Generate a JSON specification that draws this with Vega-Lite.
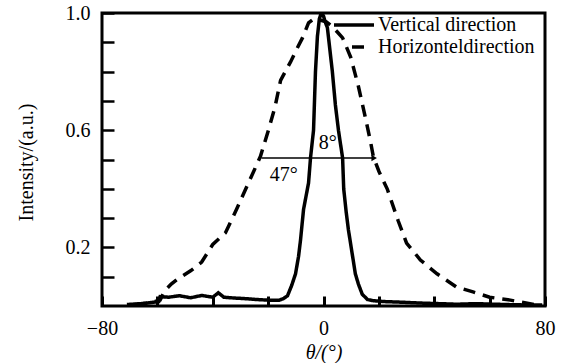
{
  "$schema": "https://vega.github.io/schema/vega-lite/v6.json",
  "autosize": {"type": "none"},
  "padding": {"left": 102, "top": 13, "right": 24, "bottom": 57},
  "width": 443,
  "height": 293,
  "background": "white",
  "config": {
    "view": {"stroke": "black", "strokeWidth": 3},
    "font": "Liberation Serif",
    "axis": {
      "labelFont": "Liberation Serif",
      "labelFontSize": 20,
      "labelColor": "black",
      "titleFont": "Liberation Serif",
      "titleFontSize": 20,
      "titleFontWeight": "normal",
      "titleColor": "black",
      "tickColor": "black",
      "tickWidth": 2.5,
      "domain": false,
      "grid": false,
      "zindex": 1
    },
    "legend": {
      "labelFont": "Liberation Serif",
      "labelFontSize": 20,
      "labelColor": "black"
    }
  },
  "datasets": {
    "curves": [
      {"x": -71, "y": 0.005, "series": "Vertical direction"},
      {"x": -66, "y": 0.008, "series": "Vertical direction"},
      {"x": -62, "y": 0.012, "series": "Vertical direction"},
      {"x": -59.5, "y": 0.015, "series": "Vertical direction"},
      {"x": -59, "y": 0.032, "series": "Vertical direction"},
      {"x": -56, "y": 0.03, "series": "Vertical direction"},
      {"x": -52, "y": 0.035, "series": "Vertical direction"},
      {"x": -48, "y": 0.028, "series": "Vertical direction"},
      {"x": -44, "y": 0.036, "series": "Vertical direction"},
      {"x": -40, "y": 0.03, "series": "Vertical direction"},
      {"x": -38, "y": 0.045, "series": "Vertical direction"},
      {"x": -36, "y": 0.03, "series": "Vertical direction"},
      {"x": -32, "y": 0.027, "series": "Vertical direction"},
      {"x": -28, "y": 0.025, "series": "Vertical direction"},
      {"x": -24, "y": 0.022, "series": "Vertical direction"},
      {"x": -20, "y": 0.02, "series": "Vertical direction"},
      {"x": -16, "y": 0.02, "series": "Vertical direction"},
      {"x": -14.5, "y": 0.025, "series": "Vertical direction"},
      {"x": -13, "y": 0.035, "series": "Vertical direction"},
      {"x": -11.5, "y": 0.07, "series": "Vertical direction"},
      {"x": -10.1, "y": 0.11, "series": "Vertical direction"},
      {"x": -9, "y": 0.17, "series": "Vertical direction"},
      {"x": -8.3, "y": 0.225, "series": "Vertical direction"},
      {"x": -7.2, "y": 0.33, "series": "Vertical direction"},
      {"x": -6.2, "y": 0.38, "series": "Vertical direction"},
      {"x": -5.4, "y": 0.42, "series": "Vertical direction"},
      {"x": -4.7, "y": 0.505, "series": "Vertical direction"},
      {"x": -3.6, "y": 0.6, "series": "Vertical direction"},
      {"x": -2.9, "y": 0.8, "series": "Vertical direction"},
      {"x": -2.2, "y": 0.92, "series": "Vertical direction"},
      {"x": -1.5, "y": 0.98, "series": "Vertical direction"},
      {"x": -0.8, "y": 1.0, "series": "Vertical direction"},
      {"x": 0, "y": 0.99, "series": "Vertical direction"},
      {"x": 0.6, "y": 0.97, "series": "Vertical direction"},
      {"x": 1.4, "y": 0.95, "series": "Vertical direction"},
      {"x": 3.2, "y": 0.8, "series": "Vertical direction"},
      {"x": 4.3, "y": 0.686, "series": "Vertical direction"},
      {"x": 5.4, "y": 0.6, "series": "Vertical direction"},
      {"x": 6.9, "y": 0.505, "series": "Vertical direction"},
      {"x": 7.3, "y": 0.4, "series": "Vertical direction"},
      {"x": 8.2, "y": 0.32, "series": "Vertical direction"},
      {"x": 9, "y": 0.26, "series": "Vertical direction"},
      {"x": 10.5, "y": 0.17, "series": "Vertical direction"},
      {"x": 11.5, "y": 0.11, "series": "Vertical direction"},
      {"x": 12.6, "y": 0.075, "series": "Vertical direction"},
      {"x": 14, "y": 0.04, "series": "Vertical direction"},
      {"x": 15.9, "y": 0.022, "series": "Vertical direction"},
      {"x": 18, "y": 0.018, "series": "Vertical direction"},
      {"x": 22, "y": 0.015, "series": "Vertical direction"},
      {"x": 28, "y": 0.013, "series": "Vertical direction"},
      {"x": 35, "y": 0.01, "series": "Vertical direction"},
      {"x": 42, "y": 0.008, "series": "Vertical direction"},
      {"x": 48, "y": 0.006, "series": "Vertical direction"},
      {"x": 55, "y": 0.008, "series": "Vertical direction"},
      {"x": 62, "y": 0.006, "series": "Vertical direction"},
      {"x": 70, "y": 0.004, "series": "Vertical direction"},
      {"x": 79, "y": 0.003, "series": "Vertical direction"},
      {"x": -68, "y": 0.005, "series": "Horizonteldirection"},
      {"x": -63, "y": 0.01, "series": "Horizonteldirection"},
      {"x": -59, "y": 0.02, "series": "Horizonteldirection"},
      {"x": -57.5, "y": 0.05, "series": "Horizonteldirection"},
      {"x": -55, "y": 0.075, "series": "Horizonteldirection"},
      {"x": -53, "y": 0.09, "series": "Horizonteldirection"},
      {"x": -48, "y": 0.12, "series": "Horizonteldirection"},
      {"x": -44, "y": 0.15, "series": "Horizonteldirection"},
      {"x": -40, "y": 0.21, "series": "Horizonteldirection"},
      {"x": -35.4, "y": 0.25, "series": "Horizonteldirection"},
      {"x": -31.4, "y": 0.33, "series": "Horizonteldirection"},
      {"x": -27.1, "y": 0.42, "series": "Horizonteldirection"},
      {"x": -22.8, "y": 0.51, "series": "Horizonteldirection"},
      {"x": -19.9, "y": 0.6, "series": "Horizonteldirection"},
      {"x": -17.5, "y": 0.68, "series": "Horizonteldirection"},
      {"x": -15.5, "y": 0.77, "series": "Horizonteldirection"},
      {"x": -11.9, "y": 0.833, "series": "Horizonteldirection"},
      {"x": -9.5, "y": 0.88, "series": "Horizonteldirection"},
      {"x": -7.6, "y": 0.915, "series": "Horizonteldirection"},
      {"x": -5.4, "y": 0.966, "series": "Horizonteldirection"},
      {"x": -3.5, "y": 0.98, "series": "Horizonteldirection"},
      {"x": -1, "y": 0.975, "series": "Horizonteldirection"},
      {"x": 1, "y": 0.97, "series": "Horizonteldirection"},
      {"x": 3, "y": 0.955, "series": "Horizonteldirection"},
      {"x": 5, "y": 0.935, "series": "Horizonteldirection"},
      {"x": 6.9, "y": 0.915, "series": "Horizonteldirection"},
      {"x": 9.8, "y": 0.85, "series": "Horizonteldirection"},
      {"x": 12.6, "y": 0.75, "series": "Horizonteldirection"},
      {"x": 15.2, "y": 0.64, "series": "Horizonteldirection"},
      {"x": 17, "y": 0.56, "series": "Horizonteldirection"},
      {"x": 18, "y": 0.51, "series": "Horizonteldirection"},
      {"x": 20, "y": 0.46, "series": "Horizonteldirection"},
      {"x": 23, "y": 0.4, "series": "Horizonteldirection"},
      {"x": 27, "y": 0.29, "series": "Horizonteldirection"},
      {"x": 30, "y": 0.215, "series": "Horizonteldirection"},
      {"x": 35, "y": 0.157, "series": "Horizonteldirection"},
      {"x": 41, "y": 0.11, "series": "Horizonteldirection"},
      {"x": 48, "y": 0.065, "series": "Horizonteldirection"},
      {"x": 54, "y": 0.048, "series": "Horizonteldirection"},
      {"x": 60, "y": 0.03, "series": "Horizonteldirection"},
      {"x": 67.5, "y": 0.02, "series": "Horizonteldirection"},
      {"x": 77, "y": 0.003, "series": "Horizonteldirection"}
    ],
    "span": [{"x": -22.4, "x2": 18.3, "y": 0.505}],
    "tip": [{"x": 18.3, "y": 0.505}],
    "labels": [
      {"x": 1.5, "y": 0.556, "text": "8°"},
      {"x": -14.4, "y": 0.447, "text": "47°"}
    ]
  },
  "layer": [
    {
      "data": {"name": "curves"},
      "mark": {"type": "line", "color": "black", "strokeWidth": 3.5, "clip": true},
      "encoding": {
        "x": {
          "field": "x", "type": "quantitative",
          "scale": {"domain": [-80, 80], "nice": false, "zero": false},
          "axis": {
            "title": "θ/(°)",
            "titleFontStyle": "italic",
            "values": [-80, -60, -40, -20, 0, 20, 40, 60, 80],
            "tickCount": 30,
            "labelExpr": "datum.value == -80 ? '−80' : (datum.value == 0 ? '0' : (datum.value == 80 ? '80' : ''))",
            "tickSize": -10,
            "tickWidth": 3,
            "labelPadding": 22,
            "labelFlush": false,
            "labelOverlap": false,
            "titleY": 46,
            "titleBaseline": "middle"
          }
        },
        "y": {
          "field": "y", "type": "quantitative",
          "scale": {"domain": [0, 1], "nice": false, "zero": false},
          "axis": {
            "title": "Intensity/(a.u.)",
            "values": [0.1, 0.2, 0.3, 0.4, 0.5, 0.6, 0.7, 0.8, 0.9, 1.0],
            "tickCount": 30,
            "labelExpr": "(abs(datum.value - 0.2) < 0.001 || abs(datum.value - 0.6) < 0.001 || abs(datum.value - 1) < 0.001) ? format(datum.value, '.1f') : ''",
            "tickSize": -12,
            "labelPadding": 24,
            "labelFlush": false,
            "labelOverlap": false,
            "titleX": -76,
            "titleY": 149,
            "titleAngle": -90,
            "titleAlign": "center",
            "titleBaseline": "middle"
          }
        },
        "strokeDash": {
          "field": "series", "type": "nominal",
          "scale": {"domain": ["Vertical direction", "Horizonteldirection"], "range": [[1, 0], [12, 8]]},
          "legend": {
            "title": null,
            "orient": "none",
            "legendX": 240,
            "legendY": 0,
            "symbolType": "M-2,0H2",
            "symbolSize": 400,
            "symbolStrokeWidth": 3.5,
            "symbolStrokeColor": "black",
            "symbolFillColor": "transparent",
            "labelOffset": 12,
            "rowPadding": 0,
            "encode": {
              "symbols": {
                "update": {
                  "shape": {"signal": "datum.value == 'Vertical direction' ? 'M-2,0H2' : 'M-0.2,0H1.3'"}
                }
              }
            }
          }
        },
        "order": {"field": "x", "type": "quantitative"}
      }
    },
    {
      "data": {"name": "span"},
      "mark": {"type": "rule", "color": "black", "strokeWidth": 1.5},
      "encoding": {
        "x": {"field": "x", "type": "quantitative"},
        "x2": {"field": "x2"},
        "y": {"field": "y", "type": "quantitative"}
      }
    },
    {
      "data": {"name": "tip"},
      "mark": {"type": "point", "shape": "triangle-right", "filled": true, "color": "black", "size": 40, "opacity": 1},
      "encoding": {
        "x": {"field": "x", "type": "quantitative"},
        "y": {"field": "y", "type": "quantitative"}
      }
    },
    {
      "data": {"name": "labels"},
      "mark": {"type": "text", "font": "Liberation Serif", "fontSize": 20, "color": "black", "align": "center", "baseline": "middle"},
      "encoding": {
        "x": {"field": "x", "type": "quantitative"},
        "y": {"field": "y", "type": "quantitative"},
        "text": {"field": "text"}
      }
    }
  ]
}
